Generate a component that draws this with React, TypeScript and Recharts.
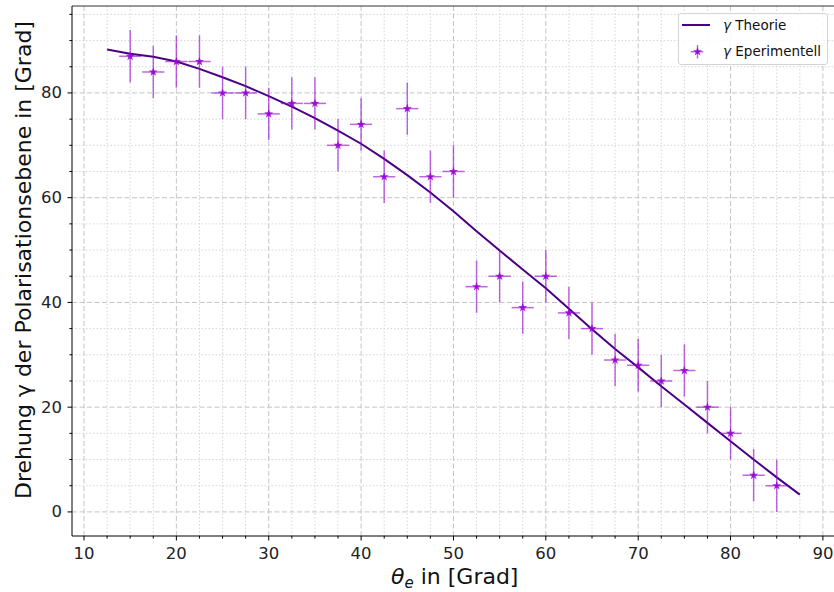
import React from 'react';
import {
  ComposedChart,
  Line,
  Scatter,
  XAxis,
  YAxis,
  CartesianGrid,
  ErrorBar,
  ReferenceLine,
} from 'recharts';

// ---------- data ----------
const THETA_EXP = [15, 17.5, 20, 22.5, 25, 27.5, 30, 32.5, 35, 37.5, 40, 42.5, 45, 47.5, 50, 52.5, 55, 57.5, 60, 62.5, 65, 67.5, 70, 72.5, 75, 77.5, 80, 82.5, 85];
const GAMMA_EXP = [87, 84, 86, 86, 80, 80, 76, 78, 78, 70, 74, 64, 77, 64, 65, 43, 45, 39, 45, 38, 35, 29, 28, 25, 27, 20, 15, 7, 5];
const THETA_ERR = 1.2;
const GAMMA_ERR = 5;

const THETA_THEORY = [12.5, 15, 17.5, 20, 22.5, 25, 27.5, 30, 32.5, 35, 37.5, 40, 42.5, 45, 47.5, 50, 52.5, 55, 57.5, 60, 62.5, 65, 67.5, 70, 72.5, 75, 77.5, 80, 82.5, 85, 87.5];
const GAMMA_THEORY = [88.3, 87.5, 86.9, 86.0, 84.6, 83.0, 81.3, 79.4, 77.4, 75.2, 72.8, 70.3, 67.4, 64.3, 61.0, 57.4, 53.6, 49.9, 46.3, 42.7, 38.8, 34.9, 31.1, 27.6, 24.0, 20.5, 17.0, 13.5, 10.0, 6.6, 3.3];

const X_MAJOR = [10, 20, 30, 40, 50, 60, 70, 80, 90];
const X_MINOR = [12.5, 15, 17.5, 22.5, 25, 27.5, 32.5, 35, 37.5, 42.5, 45, 47.5, 52.5, 55, 57.5, 62.5, 65, 67.5, 72.5, 75, 77.5, 82.5, 85, 87.5];
const Y_MAJOR = [0, 20, 40, 60, 80];
const Y_MINOR = [5, 10, 15, 25, 30, 35, 45, 50, 55, 65, 70, 75, 85, 90, 95];

const X_DOMAIN = [8.7, 91.2];
const Y_DOMAIN = [-4.6, 96.6];

const LABEL_THEORY = 'Theorie';
const LABEL_EXP = 'Eperimentell';
const X_LABEL_REST = ' in [Grad]';
const Y_LABEL = 'Drehung γ der Polarisationsebene in [Grad]';

// ---------- derived tables ----------
const expData = THETA_EXP.map((x, i) => ({ x, y: GAMMA_EXP[i], ex: THETA_ERR, ey: GAMMA_ERR }));
const theoryData = THETA_THEORY.map((x, i) => ({ x, y: GAMMA_THEORY[i] }));
const X_TICKS = [...X_MAJOR, ...X_MINOR].sort((a, b) => a - b);
const Y_TICKS = [...Y_MAJOR, ...Y_MINOR].sort((a, b) => a - b);

const FONT = 'DejaVu Sans, sans-serif';
const LINE_COLOR = '#4B0082';
const PT_COLOR = '#9400D3';

const XTick = (props: any) => {
  const { x, y, payload } = props;
  const v = payload.value;
  const major = X_MAJOR.includes(v);
  return (
    <g>
      <line x1={x} x2={x} y1={y} y2={y + (major ? 4.5 : 2.6)} stroke="#000" strokeWidth={1} />
      {major && (
        <text x={x} y={y + 23} textAnchor="middle" fontSize={16.5} fill="#222" fontFamily={FONT}>
          {v}
        </text>
      )}
    </g>
  );
};

const YTick = (props: any) => {
  const { x, y, payload } = props;
  const v = payload.value;
  const major = Y_MAJOR.includes(v);
  return (
    <g>
      <line x1={x} x2={x - (major ? 4.5 : 2.6)} y1={y} y2={y} stroke="#000" strokeWidth={1} />
      {major && (
        <text x={x - 10} y={y} textAnchor="end" dominantBaseline="central" fontSize={16.5} fill="#222" fontFamily={FONT}>
          {v}
        </text>
      )}
    </g>
  );
};

const starPoints = (cx: number, cy: number, ro: number, ri: number) => {
  const pts: string[] = [];
  for (let k = 0; k < 10; k++) {
    const r = k % 2 === 0 ? ro : ri;
    const a = -Math.PI / 2 + (k * Math.PI) / 5;
    pts.push(`${cx + r * Math.cos(a)},${cy + r * Math.sin(a)}`);
  }
  return pts.join(' ');
};

const StarShape = (props: any) => {
  const { cx, cy } = props;
  if (cx == null || cy == null) return null;
  return <polygon points={starPoints(cx, cy, 4.8, 1.9)} fill={PT_COLOR} fillOpacity={0.85} />;
};

const XLabel = () => (
  <text x={391} y={584} fontSize={22} fill="#111" fontFamily={FONT}>
    <tspan fontStyle="italic">θ</tspan>
    <tspan fontStyle="italic" fontSize={15} dy={4}>e</tspan>
    <tspan dy={-4}>{X_LABEL_REST}</tspan>
  </text>
);

const YLabel = () => (
  <text
    x={0}
    y={0}
    transform="translate(30.5 260) rotate(-90)"
    textAnchor="middle"
    fontSize={22}
    fill="#111"
    fontFamily={FONT}
  >
    {Y_LABEL}
  </text>
);

export default function App() {
  return (
    <div style={{ position: 'absolute', left: 0, top: 0, width: 834, height: 592, background: '#fff' }}>
      <ComposedChart
        width={834}
        height={592}
        margin={{ top: 6, right: 0, bottom: 0, left: 0 }}
      >
        <CartesianGrid
          verticalValues={X_MINOR}
          horizontalValues={Y_MINOR}
          stroke="#d6d6d6"
          strokeDasharray="1.5 2"
          strokeWidth={1}
        />
        <CartesianGrid
          verticalValues={X_MAJOR}
          horizontalValues={Y_MAJOR}
          stroke="#c4c4c4"
          strokeDasharray="5 2.5"
          strokeWidth={1}
        />
        <XAxis
          dataKey="x"
          type="number"
          domain={X_DOMAIN}
          ticks={X_TICKS}
          interval={0}
          allowDataOverflow
          height={56}
          tickLine={false}
          tickSize={0}
          tickMargin={0}
          tick={<XTick />}
          axisLine={{ stroke: '#000', strokeWidth: 1 }}
          label={<XLabel />}
        />
        <YAxis
          type="number"
          domain={Y_DOMAIN}
          ticks={Y_TICKS}
          interval={0}
          allowDataOverflow
          width={72}
          tickLine={false}
          tickSize={0}
          tickMargin={0}
          tick={<YTick />}
          axisLine={{ stroke: '#000', strokeWidth: 1 }}
          label={<YLabel />}
        />
        <ReferenceLine y={Y_DOMAIN[1]} stroke="#333" strokeWidth={1} />
        <Line
          data={theoryData}
          dataKey="y"
          type="linear"
          stroke={LINE_COLOR}
          strokeWidth={2}
          dot={false}
          activeDot={false}
          isAnimationActive={false}
        />
        <Scatter data={expData} dataKey="y" shape={<StarShape />} isAnimationActive={false}>
          <ErrorBar dataKey="ey" direction="y" width={0} stroke={PT_COLOR} strokeOpacity={0.6} strokeWidth={1.5} />
          <ErrorBar dataKey="ex" direction="x" width={0} stroke={PT_COLOR} strokeOpacity={0.6} strokeWidth={1.5} />
        </Scatter>
      </ComposedChart>
      <div
        style={{
          position: 'absolute',
          left: 678,
          top: 13,
          width: 150,
          height: 52,
          boxSizing: 'border-box',
          border: '1px solid #d4d4d4',
          borderRadius: 3,
          background: 'rgba(255,255,255,0.85)',
          fontFamily: FONT,
          fontSize: 13.5,
          color: '#111',
        }}
      >
        <svg width={150} height={52} style={{ position: 'absolute', left: -1, top: -1 }}>
          <line x1={4} x2={32} y1={12} y2={12} stroke={LINE_COLOR} strokeWidth={2} />
          <line x1={19.5} x2={19.5} y1={32} y2={45.5} stroke={PT_COLOR} strokeOpacity={0.6} strokeWidth={1.5} />
          <line x1={12.7} x2={25.3} y1={38.7} y2={38.7} stroke={PT_COLOR} strokeOpacity={0.6} strokeWidth={1.5} />
          <polygon points={starPoints(19.5, 38.7, 4.8, 1.9)} fill={PT_COLOR} fillOpacity={0.85} />
          <text x={45} y={16.5} fontSize={13.5} fill="#111" fontFamily={FONT}>
            <tspan fontStyle="italic">γ</tspan> {LABEL_THEORY}
          </text>
          <text x={45} y={43} fontSize={13.5} fill="#111" fontFamily={FONT}>
            <tspan fontStyle="italic">γ</tspan> {LABEL_EXP}
          </text>
        </svg>
      </div>
    </div>
  );
}
